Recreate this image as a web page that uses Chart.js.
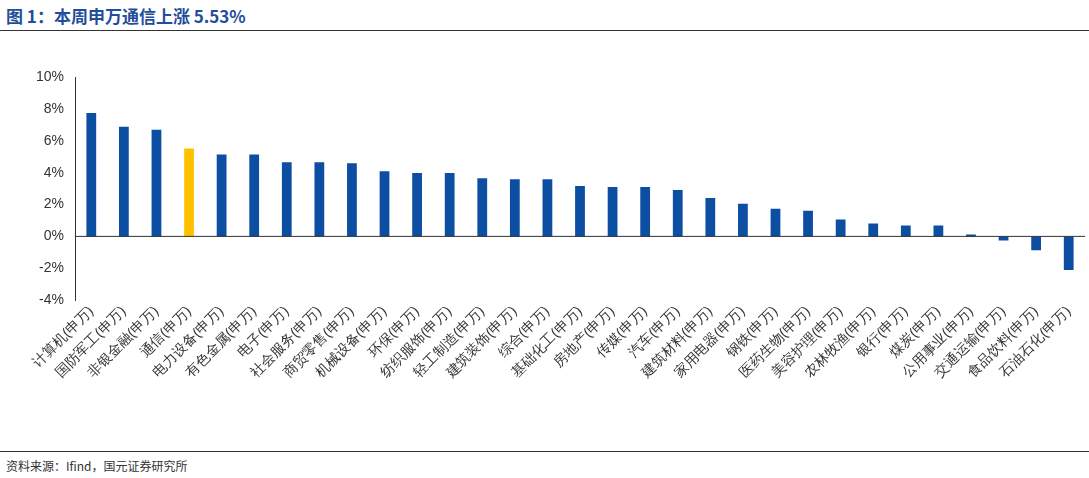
<!DOCTYPE html>
<html><head><meta charset="utf-8">
<script src="https://cdn.jsdelivr.net/npm/chart.js@4"></script>
<style>
body{margin:0;width:1089px;height:478px;background:#fff;font-family:"Noto Sans CJK SC",sans-serif;position:relative;overflow:hidden}
#t{position:absolute;left:6px;top:3px;font-size:17px;font-weight:bold;color:#1F4E9A}
#l1{position:absolute;left:0;top:30px;width:1089px;border-top:1px solid #333}
#l2{position:absolute;left:0;top:451px;width:1089px;border-top:1px solid #333}
#s{position:absolute;left:6px;top:457px;font-size:12px;color:#333}
#c{position:absolute;left:20px;top:66px;width:1065px;height:384px}
</style></head><body>
<div id="t">图 1：本周申万通信上涨 5.53%</div><div id="l1"></div>
<div id="c"><canvas id="cv"></canvas></div>
<div id="l2"></div><div id="s">资料来源：Ifind，国元证券研究所</div>
<script>
const categories=["计算机(申万)","国防军工(申万)","非银金融(申万)","通信(申万)","电力设备(申万)","有色金属(申万)","电子(申万)","社会服务(申万)","商贸零售(申万)","机械设备(申万)","环保(申万)","纺织服饰(申万)","轻工制造(申万)","建筑装饰(申万)","综合(申万)","基础化工(申万)","房地产(申万)","传媒(申万)","汽车(申万)","建筑材料(申万)","家用电器(申万)","钢铁(申万)","医药生物(申万)","美容护理(申万)","农林牧渔(申万)","银行(申万)","煤炭(申万)","公用事业(申万)","交通运输(申万)","食品饮料(申万)","石油石化(申万)"];
const values=[7.76,6.9,6.7,5.53,5.15,5.15,4.66,4.66,4.6,4.1,3.98,3.98,3.66,3.6,3.6,3.17,3.1,3.1,2.92,2.42,2.05,1.74,1.61,1.06,0.81,0.68,0.68,0.12,-0.25,-0.87,-2.11];
const highlight="通信(申万)";
new Chart(document.getElementById('cv'),{type:'bar',
data:{labels:categories,datasets:[{data:values,backgroundColor:categories.map(c=>c===highlight?'#FFC000':'#0B4EA2'),barPercentage:0.3,categoryPercentage:1}]},
options:{responsive:true,maintainAspectRatio:false,animation:false,
plugins:{legend:{display:false},tooltip:{enabled:false}},
layout:{padding:{right:0,top:0}},
scales:{y:{min:-4,max:10,afterFit:s=>{s.width=55},ticks:{stepSize:2,callback:v=>v+'%',color:'#333',font:{size:14}},grid:{display:false},border:{color:'#333'}},
x:{afterFit:s=>{s.height=150},ticks:{maxRotation:45,minRotation:45,autoSkip:false,color:'#333',font:{size:14}},grid:{display:false,drawTicks:false},border:{display:false}}}},
plugins:[{id:'zero',afterDatasetsDraw(ch){const {ctx,chartArea:a,scales:{y}}=ch;const py=y.getPixelForValue(0);ctx.save();ctx.strokeStyle='#333';ctx.lineWidth=1;ctx.beginPath();ctx.moveTo(a.left,py);ctx.lineTo(a.right,py);ctx.stroke();ctx.restore();}}]
});
</script></body></html>
